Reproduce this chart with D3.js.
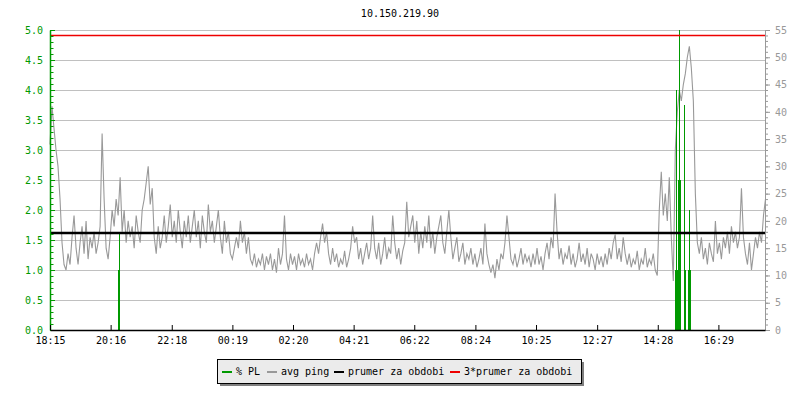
<!DOCTYPE html>
<html><head><meta charset="utf-8">
<script src="https://cdn.jsdelivr.net/npm/d3@7"></script>
<style>body{margin:0;background:#fff}</style>
</head><body>
<svg id="c" width="800" height="400"></svg>
<script>
// ---------------- DATA ----------------
const chartTitle = "10.150.219.90";
const xTickLabels = ["18:15","20:16","22:18","00:19","02:20","04:21","06:22","08:24","10:25","12:27","14:28","16:29"];
const xTickMinutes = [0,121,243,364,485,606,727,849,970,1092,1213,1334];
const totalMinutes = 1427;
const leftTicks = [0,0.5,1,1.5,2,2.5,3,3.5,4,4.5,5];
const rightTicks = [0,5,10,15,20,25,30,35,40,45,50,55];
const pingStepMin = 4;
// avg ping (ms, right axis), one sample every 4 minutes from 18:15
const pingValues = [
34,41,37,33,30,24,16,12,11,14,
12,17,21,15,12,16,19,14,20,13,
17,15,18,14,16,19,36,24,15,13,
17,22,19,24,21,28,18,22,16,20,
17,19,15,21,18,16,22,24,27,30,
23,26,17,14,19,15,17,21,16,19,
23,17,20,16,22,18,15,20,17,21,
16,19,22,17,20,15,21,18,16,23,
18,20,16,19,22,17,14,20,16,18,
14,13,15,17,15,20,16,18,14,17,
13,12,14,11.5,13,12,14,11,13.5,12,
14,11,13,10.5,15,12,14,21,13,11,
14,12,13.5,11,14,12,13,11.5,14,12,
13,11,14,16,14,17,19.5,16,18,14,
12,15,12.5,14,11.5,13,12,14.5,11.5,13,
15,19,16,17,13,15,12,14,16,13,
15,21,15,13,16,12,14,17,13,15,
14,21,16,13,15,12,14.5,16,23.5,17,
19,21,16,20,14,18,15,19,16,21,
15,18,14,17,19,21,16,14,18,22,
17,13,15,17,12.5,14,16,12,14,13,
15,12,14,11.5,13,15,12,19.5,14,12,
10.5,12,9.5,13,11,14,13,16,21,17,
13,12,14,11.5,13,15,12,14,12.5,13.5,
11.5,14,12,15,12,13.5,11,14,16,13,
17,15,25,18,13,15,12,14,13,15.5,
12,14,11.5,13,16,12.5,14,12,15,11.5,
14,13,11,14,12,13.5,11.5,14,12,15,
13,16,17.5,13,15,12.5,17,14,12,14,
11.5,13,12,14.5,11,13,12,15,11.5,13,
12,14,11,10,22,29,21,25,20,28,
17,9,33,40,44,42,45,47,50,52,
48,42,25,16,14,17,13,15,12,16,
14,12.5,20,14,16,13,17,15,18,14,
19,16,18,15,17,26,17,14,12,16,
11,14,17,15,18,16,21,24
];
// packet loss (% , left axis): minute offset and value of non-zero samples
const plMinutes = [136,138,1248,1250,1252,1254,1256,1258,1266,1268,1274,1276,1278];
const plValues  = [1.0,1.62,1.0,4.0,1.0,2.5,5.0,2.5,3.75,1.0,1.0,2.0,1.0];
const meanPing = 17.8;
const threeMeanPing = 54.1;
const legendLabels = ["% PL","avg ping","prumer za obdobi","3*prumer za obdobi"];
const legendColors = ["#009900","#999999","#000000","#ee0000"];

// ---------------- DRAW ----------------
const FONT = "'DejaVu Sans Mono', monospace";
const L = 50, R = 765, T = 30, B = 330;
const svg = d3.select("#c");
svg.append("rect").attr("width",800).attr("height",400).attr("fill","#fff");

const x = d3.scaleLinear().domain([0,totalMinutes]).range([L,R]);
const yL = d3.scaleLinear().domain([0,5]).range([B,T]);
const yR = d3.scaleLinear().domain([0,55]).range([B,T]);

svg.append("text").attr("x",400).attr("y",17).attr("text-anchor","middle")
  .attr("font-family",FONT).attr("font-size",10).attr("fill","#000").text(chartTitle);

// gridlines
svg.append("g").selectAll("line").data(leftTicks.filter(v=>v>0)).join("line")
  .attr("x1",L).attr("x2",R)
  .attr("y1",d=>Math.round(yL(d))+0.5).attr("y2",d=>Math.round(yL(d))+0.5)
  .attr("stroke","#c0c0c0").attr("stroke-width",1);

// ping line
const pingLine = d3.line().x((d,i)=>x(i*pingStepMin)).y(d=>yR(d));
svg.append("path").datum(pingValues).attr("d",pingLine)
  .attr("fill","none").attr("stroke","#999999").attr("stroke-width",1.1);

// packet loss bars
svg.append("g").selectAll("rect").data(plMinutes.map((m,i)=>({m,v:plValues[i]}))).join("rect")
  .attr("x",d=>Math.floor(x(d.m)))
  .attr("y",d=>yL(Math.min(d.v,5)))
  .attr("width",1)
  .attr("height",d=>B-yL(Math.min(d.v,5)))
  .attr("fill","#009900").attr("shape-rendering","crispEdges");

// mean lines
svg.append("line").attr("x1",L).attr("x2",R).attr("y1",yR(meanPing)).attr("y2",yR(meanPing))
  .attr("stroke","#000").attr("stroke-width",2.5);
svg.append("line").attr("x1",L).attr("x2",R).attr("y1",Math.round(yR(threeMeanPing))+0.5).attr("y2",Math.round(yR(threeMeanPing))+0.5)
  .attr("stroke","#ee0000").attr("stroke-width",1.3);

function styleAxis(g,color){
  g.attr("font-family",FONT).attr("font-size",10);
  g.selectAll("line").attr("stroke",color);
  g.selectAll("path").attr("stroke",color);
  g.selectAll("text").attr("fill",color);
}

// left axis
const gLm = svg.append("g").attr("transform",`translate(${L},0)`)
  .call(d3.axisLeft(yL).tickValues(d3.range(0,51).map(i=>i/10)).tickSize(-3.5).tickSizeOuter(0).tickFormat(""));
styleAxis(gLm,"#009900");
const gL = svg.append("g").attr("transform",`translate(${L},0)`)
  .call(d3.axisLeft(yL).tickValues(leftTicks).tickSize(-5).tickSizeOuter(0).tickPadding(7).tickFormat(d3.format(".1f")));
styleAxis(gL,"#009900");
gL.select("path.domain").attr("stroke-width",1.5);

// right axis
const gRm = svg.append("g").attr("transform",`translate(${R},0)`)
  .call(d3.axisRight(yR).tickValues(d3.range(0,56)).tickSize(3).tickSizeOuter(0).tickFormat(""));
styleAxis(gRm,"#999999");
const gR = svg.append("g").attr("transform",`translate(${R},0)`)
  .call(d3.axisRight(yR).tickValues(rightTicks).tickSize(5).tickSizeOuter(0).tickPadding(5));
styleAxis(gR,"#999999");

// bottom axis
const gB = svg.append("g").attr("transform",`translate(0,${B})`)
  .call(d3.axisBottom(x).tickValues(xTickMinutes).tickFormat((d,i)=>xTickLabels[i]).tickSize(-5).tickSizeOuter(0).tickPadding(7));
styleAxis(gB,"#000");
gB.select("path.domain").attr("stroke-width",1.5);

// legend
const lg = svg.append("g");
lg.append("rect").attr("x",220).attr("y",362).attr("width",364).attr("height",24).attr("fill","#7f7f7f");
lg.append("rect").attr("x",217.5).attr("y",359.5).attr("width",364).attr("height",24).attr("fill","#ebebeb").attr("stroke","#000");
const swX = [222,267,334,450];
legendLabels.forEach((lab,i)=>{
  lg.append("line").attr("x1",swX[i]).attr("x2",swX[i]+10).attr("y1",372).attr("y2",372)
    .attr("stroke",legendColors[i]).attr("stroke-width",2);
  lg.append("text").attr("x",swX[i]+14).attr("y",375).attr("font-family",FONT).attr("font-size",10)
    .attr("fill","#000").text(lab);
});
</script>
</body></html>
